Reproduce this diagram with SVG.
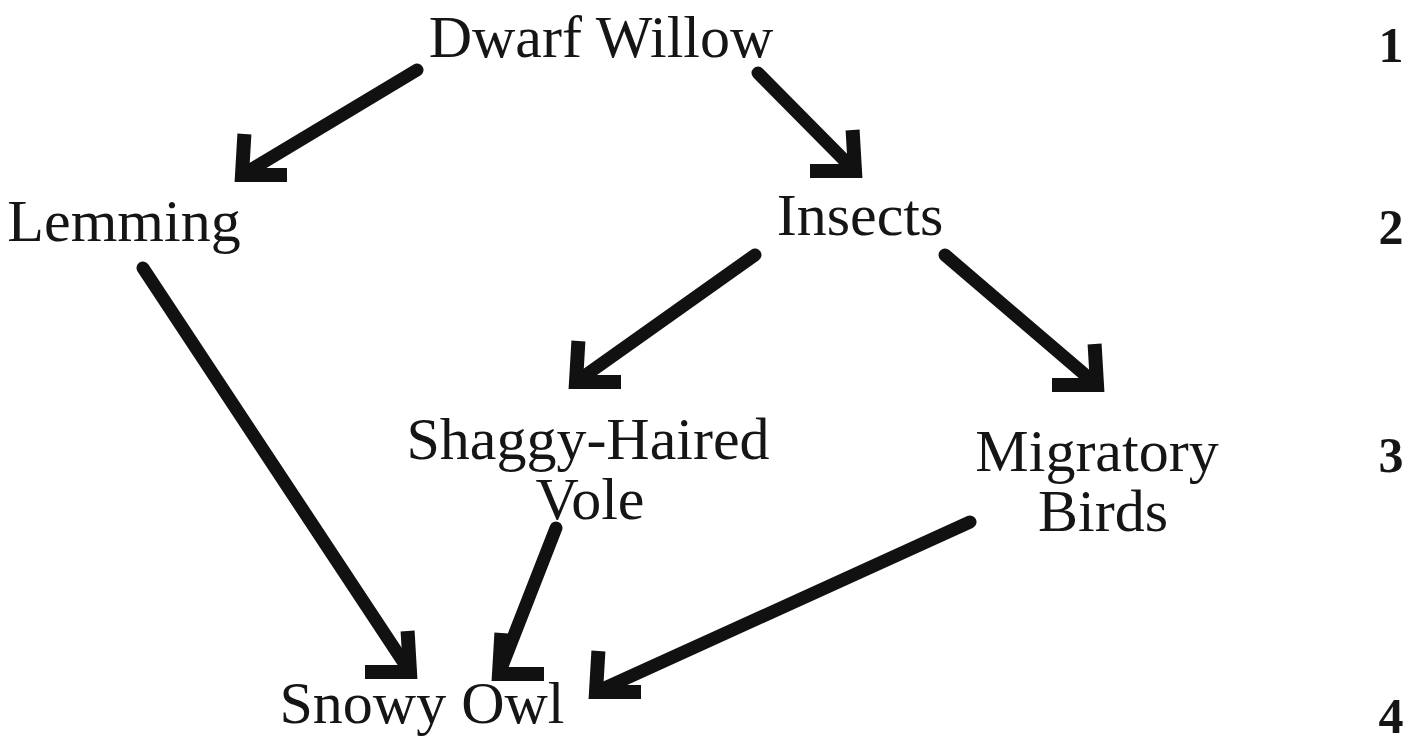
<svg xmlns="http://www.w3.org/2000/svg" width="1421" height="747" viewBox="0 0 1421 747">
<style>
.t{font-family:"Liberation Serif","Times New Roman",serif;font-size:60px;fill:#151515;text-anchor:middle}
.n{font-family:"Liberation Serif","Times New Roman",serif;font-size:50px;font-weight:bold;fill:#151515;text-anchor:middle}
.c{stroke:#111;stroke-width:13;fill:none;stroke-linecap:round}
.h{stroke:#111;stroke-width:14;fill:none;stroke-linecap:square;stroke-linejoin:miter}
</style>
<defs>
<marker id="hl" markerUnits="userSpaceOnUse" orient="0" viewBox="-10 -50 60 60" markerWidth="60" markerHeight="60" refX="0" refY="0" overflow="visible">
<path class="h" d="M 2 -34 L 0 0 L 38 0"/>
</marker>
<marker id="hr" markerUnits="userSpaceOnUse" orient="0" viewBox="-50 -50 60 60" markerWidth="60" markerHeight="60" refX="0" refY="0" overflow="visible">
<path class="h" d="M -2 -34 L 0 0 L -38 0"/>
</marker>
</defs>
<rect width="1421" height="747" fill="#fff"/>
<g id="connectors">
<line class="c" x1="417" y1="70" x2="242" y2="175" marker-end="url(#hl)"/>
<line class="c" x1="758" y1="73" x2="855" y2="171" marker-end="url(#hr)"/>
<line class="c" x1="143" y1="268" x2="410" y2="672" marker-end="url(#hr)"/>
<line class="c" x1="556" y1="528" x2="499" y2="674" marker-end="url(#hl)"/>
<line class="c" x1="970" y1="522" x2="596" y2="692" marker-end="url(#hl)"/>
<line class="c" x1="755" y1="255" x2="576" y2="382" marker-end="url(#hl)"/>
<line class="c" x1="945" y1="255" x2="1097" y2="385" marker-end="url(#hr)"/>
</g>
<g id="dwarf-willow"><text class="t" x="601" y="57">Dwarf Willow</text></g>
<g id="lemming"><text class="t" x="124" y="241">Lemming</text></g>
<g id="insects"><text class="t" x="860" y="235">Insects</text></g>
<g id="vole"><text class="t" x="588" y="459">Shaggy-Haired</text><text class="t" x="590" y="519">Vole</text></g>
<g id="birds"><text class="t" x="1097" y="471">Migratory</text><text class="t" x="1103" y="531">Birds</text></g>
<g id="snowy-owl"><text class="t" x="422" y="723">Snowy Owl</text></g>
<g id="levels">
<text class="n" x="1391" y="62">1</text>
<text class="n" x="1391" y="244">2</text>
<text class="n" x="1391" y="472">3</text>
<text class="n" x="1391" y="733">4</text>
</g>
</svg>
